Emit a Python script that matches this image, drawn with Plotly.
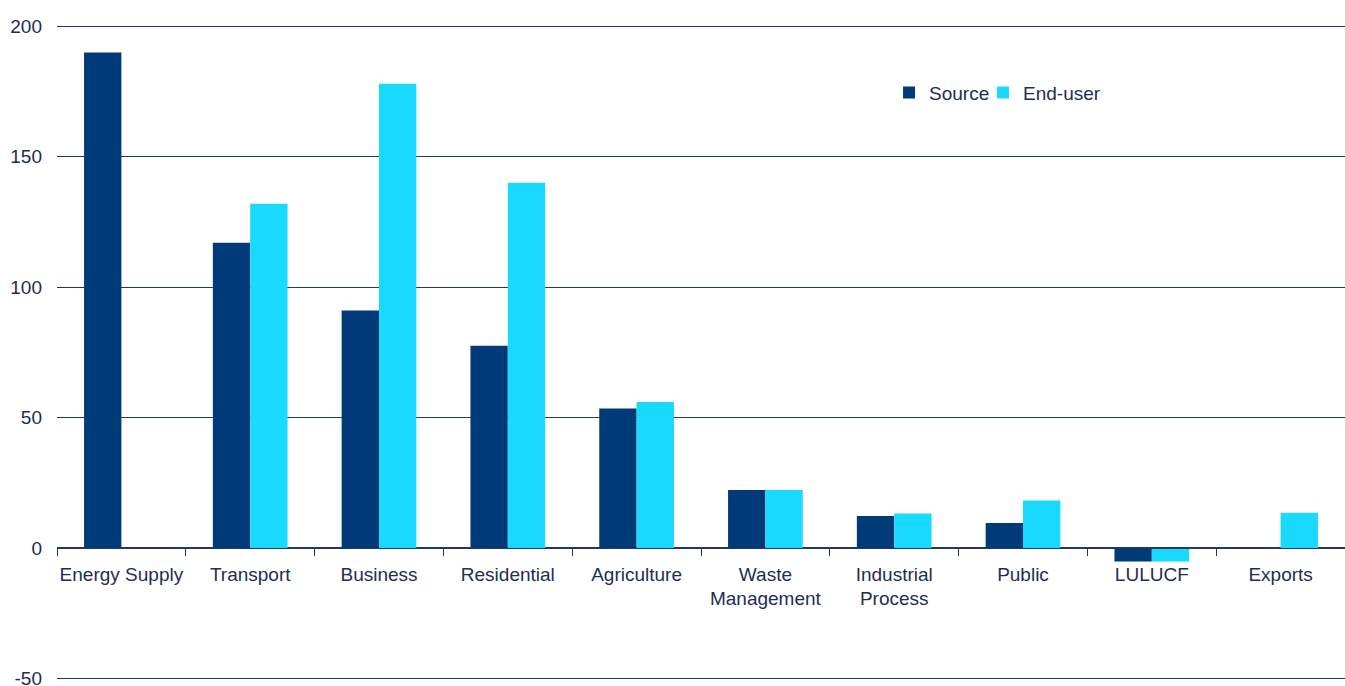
import plotly.graph_objects as go

categories = ["Energy Supply", "Transport", "Business", "Residential", "Agriculture",
              "Waste<br>Management", "Industrial<br>Process", "Public", "LULUCF", "Exports"]
source = [190, 117, 91, 77.5, 53.5, 22.2, 12.3, 9.6, -5.2, 0]
end_user = [0, 132, 178, 140, 56, 22.2, 13.2, 18.2, -5.2, 13.5]
y_ticks = [-50, 0, 50, 100, 150, 200]
y_tick_text = ["-50", "0", "50", "100", "150", "200"]

navy = "#003A78"
cyan = "#1AD9FF"
text_col = "#1F2D55"
line_col = "#1F3864"
FONT = "Liberation Sans, Arial, sans-serif"

y_lo, y_hi = -51, 200.5

fig = go.Figure()
fig.add_trace(go.Bar(name="Source", x=categories, y=source, marker_color=navy,
                     marker_line_width=0, legend="legend"))
fig.add_trace(go.Bar(name="End-user", x=categories, y=end_user, marker_color=cyan,
                     marker_line_width=0, legend="legend2"))

leg_common = dict(orientation="h", yanchor="middle", xanchor="left",
                  font=dict(size=19, color=text_col), bgcolor="rgba(0,0,0,0)",
                  itemwidth=30, y=0.897)

fig.update_layout(
    width=1345, height=686,
    margin=dict(l=57, r=0, t=25, b=5, autoexpand=False),
    paper_bgcolor="white", plot_bgcolor="white",
    barmode="group", bargap=0.42, bargroupgap=0,
    font=dict(family=FONT, size=19, color=text_col),
    showlegend=True,
    legend=dict(x=0.646, **leg_common),
    legend2=dict(x=0.646 + 94 / 1288, **leg_common),
)
fig.update_yaxes(range=[y_lo, y_hi], tickvals=y_ticks, ticktext=y_tick_text,
                 showgrid=True, gridcolor=line_col, automargin=False,
                 gridwidth=1, zeroline=False, showline=False, ticks="",
                 ticklabelstandoff=14, ticklabeloverflow="allow",
                 tickfont=dict(size=19, color=text_col))
fig.update_xaxes(anchor="free", position=(0 - y_lo) / (y_hi - y_lo), showline=True,
                 linecolor=line_col, linewidth=1, ticks="outside", tickson="boundaries",
                 ticklen=7, tickcolor=line_col, showgrid=False, zeroline=False,
                 automargin=False, tickangle=0, ticklabelstandoff=9,
                 tickfont=dict(size=19, color=text_col))

fig.write_html("out.html")
